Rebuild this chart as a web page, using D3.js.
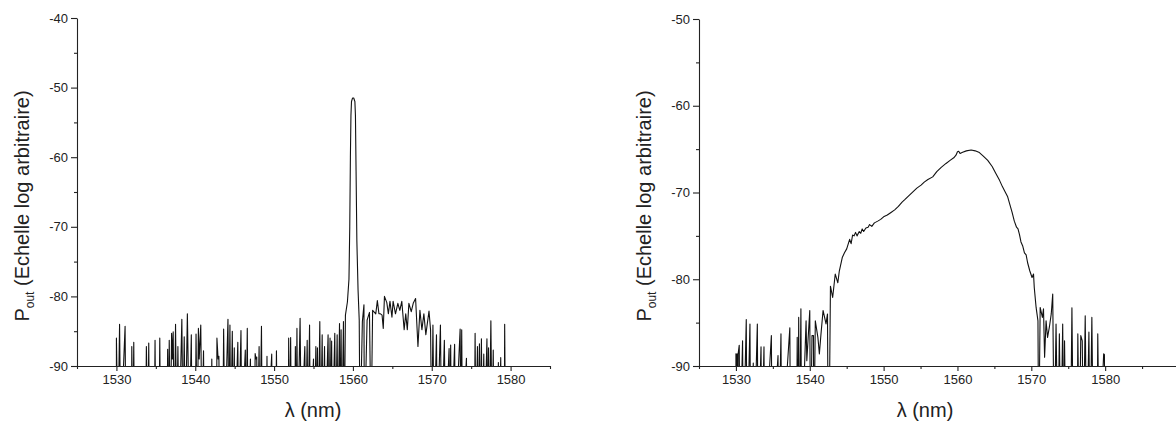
<!DOCTYPE html>
<html><head><meta charset="utf-8">
<script src="https://cdn.jsdelivr.net/npm/d3@7"></script>
<style>
body{margin:0;background:#fff}
svg{display:block}
text{font-family:Arial,"Liberation Sans",sans-serif;fill:#222}
</style>
</head><body>
<svg id="c" width="1176" height="425"></svg>
<script>
// ---- data ----
const xMajorTicks = [1530, 1540, 1550, 1560, 1570, 1580];
const leftYTicks = [-90, -80, -70, -60, -50, -40];
const rightYTicks = [-90, -80, -70, -60, -50];
const xLabel = "λ (nm)";
const yLabelMain = "P";
const yLabelSub = "out";
const yLabelRest = " (Echelle log arbitraire)";

// left: signal at 1560 nm over noise floor (values below -90 are clipped)
const leftSpectrum = [
[1530.0,-100],[1530.0,-86.0],[1530.2,-100],[1530.4,-84.0],[1530.55,-100],[1531.1,-84.3],[1531.2,-100],
[1531.9,-100],[1531.95,-87.2],[1532.1,-100],[1532.2,-86.6],[1532.3,-100],[1533.7,-100],[1533.8,-87.2],
[1534.0,-100],[1534.1,-86.7],[1534.2,-100],[1534.8,-100],[1534.9,-86.3],[1535.0,-100],[1535.4,-100],
[1535.5,-86.0],[1535.6,-100],[1536.4,-100],[1536.5,-87.6],[1536.6,-100],[1536.7,-86.3],[1536.85,-100],
[1537.0,-85.3],[1537.1,-89],[1537.2,-85.1],[1537.35,-100],[1537.5,-84.0],[1537.65,-100],[1537.8,-87.2],
[1537.95,-100],[1538.3,-83.3],[1538.45,-100],[1538.6,-85.8],[1538.75,-100],[1539.0,-82.5],[1539.25,-100],
[1539.5,-85.5],[1539.6,-100],[1540.0,-100],[1540.1,-85.4],[1540.25,-100],[1540.4,-84.6],[1540.5,-89],
[1540.7,-84.1],[1540.85,-100],[1541.05,-87.8],[1541.15,-100],[1542.0,-100],[1542.1,-89.0],[1542.2,-100],
[1542.7,-100],[1542.75,-86.0],[1542.9,-89],[1543.0,-88.6],[1543.1,-100],[1543.5,-100],[1543.6,-84.7],
[1543.75,-100],[1544.15,-83.3],[1544.25,-100],[1544.4,-84.1],[1544.5,-100],[1544.7,-85.0],[1544.8,-100],
[1544.95,-87.4],[1545.05,-100],[1545.4,-86.6],[1545.5,-100],[1545.8,-84.9],[1545.9,-100],[1546.35,-87.7],
[1546.45,-100],[1546.6,-84.6],[1546.7,-100],[1547.0,-89.0],[1547.1,-100],[1547.5,-100],[1547.6,-88.2],
[1547.7,-89],[1547.8,-88.7],[1547.9,-100],[1548.1,-87.2],[1548.2,-100],[1548.4,-84.3],[1548.5,-100],
[1549.0,-100],[1549.1,-88.6],[1549.2,-100],[1549.7,-88.3],[1549.8,-100],[1550.2,-100],[1550.3,-87.8],
[1550.4,-100],[1551.8,-100],[1551.85,-86.0],[1551.95,-100],[1552.1,-85.9],[1552.2,-100],[1552.6,-100],
[1552.7,-87.2],[1552.8,-100],[1552.9,-84.6],[1553.0,-100],[1553.3,-83.15],[1553.45,-100],[1553.9,-87.2],
[1554.0,-100],[1554.2,-86.3],[1554.3,-100],[1554.5,-84.1],[1554.6,-100],[1555.0,-89.0],[1555.1,-100],
[1555.3,-87.2],[1555.4,-100],[1555.5,-87.4],[1555.6,-100],[1555.8,-83.6],[1555.9,-100],[1556.1,-85.5],
[1556.2,-100],[1556.4,-87.2],[1556.5,-100],[1556.85,-85.5],[1556.95,-100],[1557.1,-86.0],[1557.2,-100],
[1557.3,-86.4],[1557.4,-100],[1557.7,-85.3],[1557.8,-100],[1558.0,-85.5],[1558.1,-100],[1558.3,-83.9],
[1558.4,-100],[1558.5,-84.8],[1558.6,-100],[1558.8,-83.6],[1558.9,-100],[1559.05,-82.7],[1559.3,-80.8],
[1559.5,-77.5],[1559.6,-70],[1559.68,-60],[1559.75,-54],[1559.82,-52],[1559.95,-51.5],[1560.1,-51.5],
[1560.25,-52],[1560.32,-54],[1560.4,-62],[1560.5,-72],[1560.65,-79],[1560.8,-83.4],[1560.9,-100],
[1561.2,-83.6],[1561.4,-81.2],[1561.45,-100],[1561.8,-83.4],[1562.1,-82.3],[1562.3,-100],[1562.5,-82.0],
[1562.9,-82.5],[1563.1,-80.6],[1563.3,-82.5],[1563.5,-82.5],[1563.7,-82.7],[1563.85,-84.6],[1564.0,-80.0],
[1564.3,-80.9],[1564.5,-82.5],[1564.7,-80.7],[1564.95,-83.0],[1565.1,-80.7],[1565.4,-82.5],[1565.7,-81.0],
[1565.95,-82.0],[1566.2,-80.7],[1566.5,-84.8],[1566.7,-82.5],[1566.9,-84.8],[1567.1,-81.0],[1567.4,-82.2],
[1567.65,-81.0],[1567.95,-80.3],[1568.25,-87.2],[1568.5,-82.0],[1568.75,-84.8],[1569.0,-82.5],
[1569.25,-85.5],[1569.65,-82.1],[1569.85,-84.8],[1570.0,-100],[1570.15,-84.1],[1570.3,-100],[1570.6,-85.5],
[1570.7,-100],[1571.1,-84.1],[1571.25,-100],[1571.6,-86.3],[1571.75,-100],[1572.2,-87.5],[1572.3,-100],
[1572.4,-87.0],[1572.5,-100],[1572.9,-86.9],[1573.0,-100],[1573.6,-84.7],[1573.7,-100],[1573.8,-84.8],
[1573.9,-100],[1574.4,-88.9],[1574.5,-100],[1575.4,-100],[1575.5,-85.3],[1575.6,-100],[1575.8,-87.2],
[1575.9,-100],[1576.05,-86.8],[1576.15,-100],[1576.3,-86.1],[1576.4,-100],[1576.6,-88.3],[1576.7,-100],
[1577.0,-86.1],[1577.1,-100],[1577.2,-87.4],[1577.3,-100],[1577.5,-83.5],[1577.65,-100],[1577.8,-87.7],
[1577.9,-100],[1578.4,-100],[1578.45,-89.5],[1578.55,-100],[1578.75,-88.8],[1578.85,-100],[1579.2,-100],
[1579.25,-84.0],[1579.35,-100]
];

// right: broadband ASE spectrum over noise floor
const rightSpectrum = [
[1530.0,-100],[1530.0,-88.6],[1530.1,-100],[1530.15,-88.6],[1530.25,-100],[1530.3,-88.6],[1530.45,-87.6],
[1530.55,-100],[1530.9,-87.1],[1531.0,-100],[1531.4,-84.65],[1531.5,-100],[1531.9,-85.15],[1532.0,-100],
[1532.35,-89.65],[1532.45,-100],[1532.9,-85.15],[1533.0,-100],[1533.4,-87.8],[1533.5,-100],[1533.8,-87.8],
[1533.9,-100],[1534.8,-86.5],[1534.9,-100],[1535.7,-88.8],[1535.8,-100],[1536.1,-86.3],[1536.2,-100],
[1537.3,-85.6],[1537.4,-100],[1538.2,-100],[1538.3,-86.7],[1538.4,-100],[1538.5,-84.4],[1538.6,-100],
[1538.8,-83.4],[1538.9,-100],[1539.5,-84.8],[1539.6,-89.4],[1540.0,-83.6],[1540.1,-100],[1540.3,-86.5],
[1540.5,-86.5],[1540.55,-100],[1540.75,-84.8],[1541.1,-86.7],[1541.3,-88.6],[1541.5,-86.5],[1541.8,-83.6],
[1542.2,-85.15],[1542.4,-84.0],[1542.5,-100],[1542.6,-100],[1542.8,-80.8],[1543.1,-82.1],[1543.45,-79.4],
[1543.8,-80.4],[1544.0,-79.05],[1544.4,-77.5],[1544.7,-76.95],[1545.0,-76.5],[1545.4,-75.4],[1545.6,-75.9],
[1545.8,-74.9],[1546.0,-75.0],[1546.2,-74.6],[1546.4,-75.0],[1546.7,-74.5],[1546.9,-74.7],[1547.1,-74.2],
[1547.3,-74.5],[1547.6,-74.1],[1547.9,-74.0],[1548.1,-73.7],[1548.4,-73.9],[1548.75,-73.5],[1549.2,-73.3],
[1549.6,-73.1],[1550.0,-72.8],[1550.5,-72.6],[1551.0,-72.3],[1551.5,-72.0],[1552.0,-71.6],[1552.5,-71.1],
[1552.9,-70.8],[1553.5,-70.3],[1554.0,-69.9],[1554.5,-69.5],[1555.07,-69.15],[1555.5,-68.8],[1556.0,-68.5],
[1556.65,-68.2],[1557.2,-67.6],[1557.8,-67.1],[1558.45,-66.65],[1559.0,-66.3],[1559.5,-66.0],[1559.8,-65.7],
[1560.0,-65.3],[1560.17,-65.25],[1560.35,-65.5],[1560.7,-65.35],[1561.2,-65.2],[1561.85,-65.1],[1562.4,-65.2],
[1562.97,-65.4],[1563.5,-65.8],[1564.1,-66.3],[1564.7,-67.0],[1565.2,-67.8],[1565.7,-68.6],[1566.1,-69.35],
[1566.5,-70.0],[1566.8,-70.5],[1567.1,-71.4],[1567.4,-72.3],[1567.7,-73.3],[1568.0,-74.0],[1568.2,-74.2],
[1568.4,-74.85],[1568.6,-75.7],[1568.85,-76.2],[1569.07,-76.95],[1569.3,-77.2],[1569.5,-78.1],[1569.8,-79.05],
[1570.1,-79.8],[1570.3,-79.4],[1570.4,-80.95],[1570.65,-83.25],[1570.9,-84.8],[1571.0,-100],[1571.2,-83.25],
[1571.5,-84.4],[1571.65,-83.4],[1571.8,-89.0],[1572.0,-84.8],[1572.2,-86.7],[1572.45,-85.5],[1572.7,-84.0],
[1572.9,-81.7],[1573.1,-100],[1573.35,-85.15],[1573.6,-100],[1573.8,-86.3],[1574.0,-100],[1574.25,-85.15],
[1574.4,-100],[1574.5,-87.1],[1574.7,-100],[1575.3,-100],[1575.5,-83.3],[1575.7,-100],[1576.2,-100],
[1576.3,-86.3],[1576.5,-100],[1576.7,-86.5],[1576.9,-87.1],[1577.05,-100],[1577.3,-84.2],[1577.5,-100],
[1577.8,-86.1],[1577.95,-100],[1578.2,-84.4],[1578.4,-100],[1578.9,-100],[1579.0,-86.3],[1579.2,-100],
[1579.8,-88.6],[1579.9,-88.7],[1580.0,-100]
];

// ---- drawing ----
const svg = d3.select("#c");

function panel(cfg) {
  const g = svg.append("g");
  const x = d3.scaleLinear().domain(cfg.xDomain).range(cfg.xRange);
  const y = d3.scaleLinear().domain(cfg.yDomain).range(cfg.yRange);

  const clipId = "clip" + cfg.id;
  svg.append("defs").append("clipPath").attr("id", clipId)
    .append("rect")
    .attr("x", cfg.xRange[0]).attr("y", cfg.yRange[1])
    .attr("width", cfg.xRange[1] - cfg.xRange[0])
    .attr("height", cfg.yRange[0] - cfg.yRange[1]);

  const line = d3.line().x(d => x(d[0])).y(d => y(d[1]));
  g.append("path").datum(cfg.data)
    .attr("clip-path", `url(#${clipId})`)
    .attr("fill", "none").attr("stroke", "#111").attr("stroke-width", 1.1)
    .attr("stroke-linejoin", "round")
    .attr("d", line);

  // minor ticks
  const xMinor = cfg.xMajor.map(v => v + 5).concat([cfg.xMajor[0] - 5]).filter(v => v >= cfg.xDomain[0] && v <= cfg.xDomain[1]);
  const yMinor = cfg.yTicks.slice(0, -1).map(v => v + 5);

  g.append("g").attr("transform", `translate(0,${cfg.yRange[0]})`)
    .call(d3.axisBottom(x).tickValues(xMinor).tickSize(3).tickSizeOuter(0).tickFormat(""))
    .call(a => a.select(".domain").remove());
  g.append("g").attr("transform", `translate(${cfg.xRange[0]},0)`)
    .call(d3.axisLeft(y).tickValues(yMinor).tickSize(3).tickSizeOuter(0).tickFormat(""))
    .call(a => a.select(".domain").remove());

  g.append("g").attr("transform", `translate(0,${cfg.yRange[0]})`)
    .call(d3.axisBottom(x).tickValues(cfg.xMajor).tickSize(5).tickSizeOuter(0).tickPadding(4).tickFormat(d => String(d)));
  g.append("g").attr("transform", `translate(${cfg.xRange[0]},0)`)
    .call(d3.axisLeft(y).tickValues(cfg.yTicks).tickSize(6).tickSizeOuter(0).tickPadding(3).tickFormat(d => String(d)));

  g.selectAll(".tick line, .domain").attr("stroke", "#222").attr("stroke-width", 1.1);
  g.selectAll(".tick text").attr("font-size", 13).attr("fill", "#222")
    .attr("font-family", "Arial, 'Liberation Sans', sans-serif");

  g.append("text")
    .attr("x", cfg.xLabelX).attr("y", 417)
    .attr("text-anchor", "middle").attr("font-size", 20)
    .text(xLabel);

  const t = g.append("text")
    .attr("transform", `translate(${cfg.yLabelX},206) rotate(-90)`)
    .attr("text-anchor", "middle").attr("font-size", 20);
  t.append("tspan").text(yLabelMain);
  t.append("tspan").attr("font-size", 12).attr("dy", 5).text(yLabelSub);
  t.append("tspan").attr("dy", -5).text(yLabelRest);
}

panel({id: "L", data: leftSpectrum, xDomain: [1525, 1585], xRange: [77, 550],
  yDomain: [-90, -40], yRange: [366, 18], xMajor: xMajorTicks, yTicks: leftYTicks,
  xLabelX: 313, yLabelX: 29});
panel({id: "R", data: rightSpectrum, xDomain: [1525, 1590], xRange: [699, 1179],
  yDomain: [-90, -50], yRange: [366, 19], xMajor: xMajorTicks, yTicks: rightYTicks,
  xLabelX: 925, yLabelX: 651});
</script>
</body></html>
